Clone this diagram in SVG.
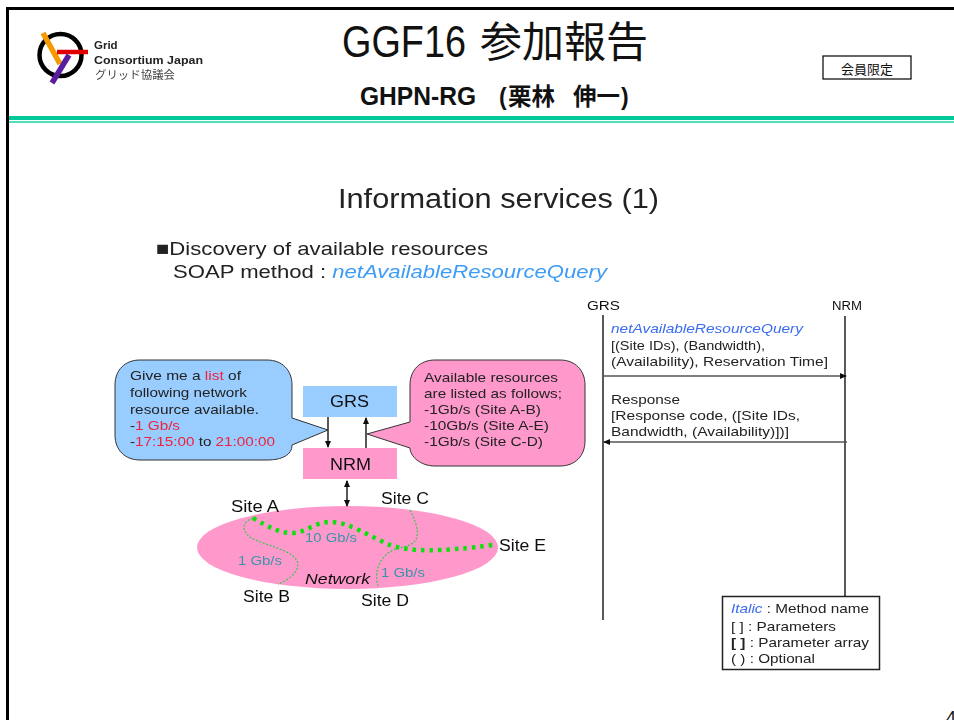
<svg xmlns="http://www.w3.org/2000/svg" width="954" height="720" viewBox="0 0 954 720">
<style>
text{font-family:"Liberation Sans","Noto Sans CJK JP",sans-serif;fill:#111}
.s{font-size:13.500px;fill:#222}
.site{font-size:16px}
.lnk{font-size:13.500px;fill:#3a93a8}
.r{fill:#f0203c}
.b{fill:#3a6cf0;font-style:italic}
.ln{stroke:#111;stroke-width:1.400;fill:none}
.thin{stroke:#22cc44;stroke-width:1.100;stroke-dasharray:2 1.600;fill:none}
</style>
<defs>
<marker id="ah" markerWidth="7" markerHeight="6" refX="6" refY="3" orient="auto-start-reverse" markerUnits="userSpaceOnUse"><path d="M0 0L7 3L0 6Z" fill="#111"/></marker>
<filter id="soft" x="-5%" y="-5%" width="110%" height="110%"><feGaussianBlur stdDeviation="0.35"/></filter>
</defs>
<rect width="954" height="720" fill="#fff"/>
<g id="frame">
<path d="M954 8.500H7.500V720" fill="none" stroke="#000" stroke-width="3"/>
<rect x="9" y="116" width="945" height="4" fill="#00c898"/>
<rect x="9" y="121" width="945" height="2" fill="#50e0bc"/>
</g>
<g id="logo" filter="url(#soft)">
<circle cx="60.500" cy="55" r="21" fill="none" stroke="#000" stroke-width="4.500"/>
<path d="M43 33L60 64" stroke="#f59a00" stroke-width="5.500"/>
<path d="M57 52H88" stroke="#e00000" stroke-width="4.500"/>
<path d="M69 55L52 83" stroke="#5a1fa0" stroke-width="5.500"/>
<text x="94" y="49" font-size="11.500" font-weight="bold" style="fill:#222">Grid</text>
<text x="94" y="64" font-size="11.500" font-weight="bold" textLength="109" lengthAdjust="spacingAndGlyphs" style="fill:#222">Consortium Japan</text>
<text x="95" y="79" font-size="11" textLength="80" lengthAdjust="spacingAndGlyphs" style="fill:#444">グリッド協議会</text>
</g>
<g id="header">
<text x="342" y="57" font-size="44" textLength="124" lengthAdjust="spacingAndGlyphs">GGF16</text>
<text x="480" y="57" font-size="42">参加報告</text>
<text x="360" y="105" font-size="26" font-weight="bold" textLength="116" lengthAdjust="spacingAndGlyphs">GHPN-RG</text>
<text x="499" y="105" font-size="23" font-weight="bold">(</text>
<text x="508" y="105" font-size="23.500" font-weight="bold">栗林</text>
<text x="573" y="105" font-size="23.500" font-weight="bold">伸一</text>
<text x="621" y="105" font-size="23" font-weight="bold">)</text>
</g>
<g id="badge">
<rect x="823" y="56" width="88" height="23" fill="#fff" stroke="#000" stroke-width="1.200"/>
<text x="867" y="74" font-size="13" text-anchor="middle">会員限定</text>
</g>
<g filter="url(#soft)">
<g id="slide-title">
<text x="338" y="208" font-size="27" textLength="321" lengthAdjust="spacingAndGlyphs" style="fill:#222">Information services (1)</text>
<text x="156" y="255" font-size="19" textLength="332" lengthAdjust="spacingAndGlyphs" style="fill:#222">■Discovery of available resources</text>
<text x="173" y="278" font-size="19" textLength="434" lengthAdjust="spacingAndGlyphs" style="fill:#222">SOAP method : <tspan class="b" style="fill:#3d9cf5">netAvailableResourceQuery</tspan></text>
</g>
<g id="network">
<ellipse cx="347.500" cy="547.500" rx="150.500" ry="41.500" fill="#ff99cc"/>
</g>
<g id="connectors">
<path class="ln" d="M328 417V447" marker-end="url(#ah)"/>
<path class="ln" d="M366 448V418" marker-end="url(#ah)"/>
<path class="ln" d="M347 481V506" marker-start="url(#ah)" marker-end="url(#ah)"/>
<path class="ln" d="M603 315V620"/>
<path class="ln" d="M845 316V596"/>
<path class="ln" d="M603 376H846" marker-end="url(#ah)" style="stroke:#555"/>
<path class="ln" d="M847 442H604" marker-end="url(#ah)" style="stroke:#555"/>
<path class="thin" d="M253 518C242 522 241 530 250 537C265 546 296 550 298 564C298 574 285 582 278 584"/>
<path class="thin" d="M410 510C418 525 420 538 413 543C405 549 393 546 384 557C375 567 376 580 378 586"/>
<path d="M253 518C270 528 280 533 292 533C305 533 315 522 330 522C350 522 370 537 390 545C410 552 440 552 493 545" fill="none" stroke="#0ce00c" stroke-width="4.500" stroke-dasharray="3.500 5"/>
</g>
<g id="callout-request">
<path d="M140 360H267C282 360 292 370 292 385V418L328 430L292 445C292 455 282 460 267 460H140C125 460 115 450 115 435V385C115 370 125 360 140 360Z" fill="#99ccff" stroke="#333" stroke-width="1"/>
<text class="s" x="130" y="380" textLength="111" lengthAdjust="spacingAndGlyphs">Give me a <tspan class="r">list</tspan> of</text>
<text class="s" x="130" y="397" textLength="117" lengthAdjust="spacingAndGlyphs">following network</text>
<text class="s" x="130" y="414" textLength="129" lengthAdjust="spacingAndGlyphs">resource available.</text>
<text class="s" x="130" y="430" textLength="50" lengthAdjust="spacingAndGlyphs">-<tspan class="r">1 Gb/s</tspan></text>
<text class="s" x="130" y="446" textLength="145" lengthAdjust="spacingAndGlyphs">-<tspan class="r">17:15:00</tspan> to <tspan class="r">21:00:00</tspan></text>
</g>
<g id="callout-response">
<path d="M435 360H560C575 360 585 370 585 385V441C585 456 575 466 560 466H435C420 466 410 456 410 448L367 434L410 422V385C410 370 420 360 435 360Z" fill="#ff99cc" stroke="#333" stroke-width="1"/>
<text class="s" x="424" y="382" textLength="134" lengthAdjust="spacingAndGlyphs">Available resources</text>
<text class="s" x="424" y="398" textLength="138" lengthAdjust="spacingAndGlyphs">are listed as follows;</text>
<text class="s" x="424" y="414" textLength="117" lengthAdjust="spacingAndGlyphs">-1Gb/s (Site A-B)</text>
<text class="s" x="424" y="430" textLength="125" lengthAdjust="spacingAndGlyphs">-10Gb/s (Site A-E)</text>
<text class="s" x="424" y="446" textLength="119" lengthAdjust="spacingAndGlyphs">-1Gb/s (Site C-D)</text>
</g>
<g id="grs"><rect x="303" y="386" width="94" height="31" fill="#99ccff"/><text x="330" y="407" font-size="16" textLength="39" lengthAdjust="spacingAndGlyphs">GRS</text></g>
<g id="nrm"><rect x="303" y="448" width="94" height="31" fill="#ff99cc"/><text x="330" y="470" font-size="16" textLength="41" lengthAdjust="spacingAndGlyphs">NRM</text></g>
<g id="sites">
<text class="site" x="231" y="512" textLength="48" lengthAdjust="spacingAndGlyphs">Site A</text>
<text class="site" x="243" y="602" textLength="47" lengthAdjust="spacingAndGlyphs">Site B</text>
<text class="site" x="381" y="504" textLength="48" lengthAdjust="spacingAndGlyphs">Site C</text>
<text class="site" x="361" y="606" textLength="48" lengthAdjust="spacingAndGlyphs">Site D</text>
<text class="site" x="499" y="551" textLength="47" lengthAdjust="spacingAndGlyphs">Site E</text>
<text class="lnk" x="305" y="542" textLength="52" lengthAdjust="spacingAndGlyphs">10 Gb/s</text>
<text class="lnk" x="238" y="565" textLength="44" lengthAdjust="spacingAndGlyphs">1 Gb/s</text>
<text class="lnk" x="381" y="577" textLength="44" lengthAdjust="spacingAndGlyphs">1 Gb/s</text>
<text x="305" y="584" font-size="15.500" font-style="italic" textLength="65" lengthAdjust="spacingAndGlyphs">Network</text>
</g>
<g id="sequence">
<text x="587" y="310" font-size="12.500" textLength="33" lengthAdjust="spacingAndGlyphs">GRS</text>
<text x="832" y="310" font-size="12.500" textLength="30" lengthAdjust="spacingAndGlyphs">NRM</text>
<text class="b" x="611" y="333" font-size="13" textLength="192" lengthAdjust="spacingAndGlyphs">netAvailableResourceQuery</text>
<text class="s" x="611" y="350" textLength="154" lengthAdjust="spacingAndGlyphs">[(Site IDs), (Bandwidth),</text>
<text class="s" x="611" y="366" textLength="217" lengthAdjust="spacingAndGlyphs">(Availability), Reservation Time]</text>
<text class="s" x="611" y="404" textLength="69" lengthAdjust="spacingAndGlyphs">Response</text>
<text class="s" x="611" y="420" textLength="189" lengthAdjust="spacingAndGlyphs">[Response code, ([Site IDs,</text>
<text class="s" x="611" y="436" textLength="178" lengthAdjust="spacingAndGlyphs">Bandwidth, (Availability)])]</text>
</g>
<g id="legend">
<rect x="722.500" y="596.500" width="157" height="73" fill="#fff" stroke="#222" stroke-width="1.500"/>
<text class="s" x="731" y="613" textLength="138" lengthAdjust="spacingAndGlyphs"><tspan class="b">Italic</tspan> : Method name</text>
<text class="s" x="731" y="631" textLength="105" lengthAdjust="spacingAndGlyphs">[ ] : Parameters</text>
<text class="s" x="731" y="647" textLength="138" lengthAdjust="spacingAndGlyphs"><tspan font-weight="bold">[ ]</tspan> : Parameter array</text>
<text class="s" x="731" y="663" textLength="84" lengthAdjust="spacingAndGlyphs">( ) : Optional</text>
</g>
</g>
<g id="page-number"><text x="946" y="724" font-size="18">4</text></g>
</svg>
